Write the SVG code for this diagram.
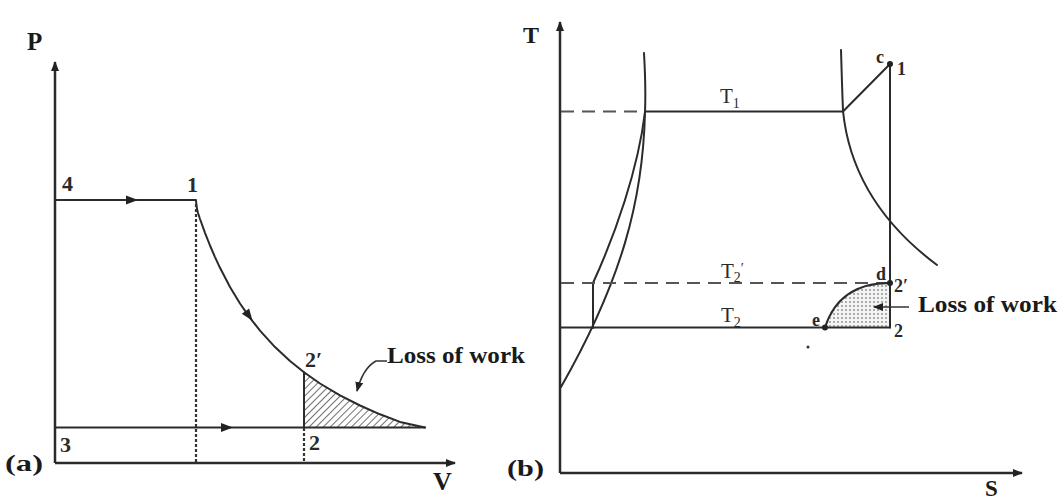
<svg xmlns="http://www.w3.org/2000/svg" width="1063" height="500" viewBox="0 0 1063 500">
<style>
.ax{stroke:#2b2b2b;stroke-width:2.5;fill:none}
.ln{stroke:#2b2b2b;stroke-width:2;fill:none;stroke-linejoin:round;stroke-linecap:round}
.thin{stroke:#333;stroke-width:1.6;fill:none}
.dot{stroke:#333;stroke-width:2.2;stroke-dasharray:3 2;fill:none}
.dash{stroke:#555;stroke-width:2;stroke-dasharray:13 8;fill:none}
.big{font-family:"Liberation Serif","Times New Roman",serif;font-weight:bold;fill:#1a1a1a}
.num{font-family:"Liberation Serif","Times New Roman",serif;fill:#2a2a2a}
.hd{fill:#222}
</style>
<defs>
<marker id="ah" markerWidth="10" markerHeight="8" refX="9" refY="4" orient="auto" markerUnits="userSpaceOnUse">
<path d="M0,0 L10,4 L0,8 z" fill="#222"/>
</marker>
<pattern id="hatch" width="5" height="5" patternUnits="userSpaceOnUse" patternTransform="rotate(45)">
<line x1="0" y1="0" x2="0" y2="5" stroke="#333" stroke-width="1.4"/>
</pattern>
<pattern id="dots" width="4" height="4" patternUnits="userSpaceOnUse">
<rect width="4" height="4" fill="#f4f4f4"/>
<circle cx="2" cy="2" r="0.9" fill="#8a8a8a"/>
</pattern>
</defs>

<g id="panel-a">
<g id="axes-a">
<line class="ax" x1="55" y1="463" x2="55" y2="62" marker-end="url(#ah)"/>
<line class="ax" x1="55" y1="463" x2="455" y2="463" marker-end="url(#ah)"/>
<text class="big" x="27" y="50" font-size="25">P</text>
<text class="big" x="433" y="490" font-size="26">V</text>
<text class="big" x="5" y="471" font-size="24" textLength="38" lengthAdjust="spacingAndGlyphs">(a)</text>
</g>
<g id="hatched-area">
<path d="M304,372.3 L320,383.5 L340,395.4 L360,405.5 L380,414.3 L400,421.9 L425,427.5 L304,427.5 Z" fill="url(#hatch)"/>
</g>
<g id="process-lines-a">
<line class="ln" x1="55" y1="200" x2="196" y2="200"/>
<polygon class="hd" points="126,195.5 138,200 126,204.5"/>
<line class="ln" x1="55" y1="427.5" x2="425" y2="427.5"/>
<polygon class="hd" points="221,423 233,427.5 221,432"/>
<path class="ln" d="M196,201 L197,209 L198,213 L200,219 L205,232.8 L210,245.5 L215,257.1 L220,267.8 L230,287 L240,303.5 L250,317.9 L260,330.6 L275,347.1 L290,361 L304,372.3 L320,383.5 L340,395.4 L360,405.5 L380,414.3 L400,421.9 L425,427.5"/>
<polygon class="hd" points="-6,-4.5 6,0 -6,4.5" transform="translate(249,316) rotate(54)"/>
<line class="ln" x1="304" y1="372.3" x2="304" y2="427.5"/>
<line class="dot" x1="196" y1="204" x2="196" y2="463"/>
<line class="dot" x1="304" y1="428" x2="304" y2="463"/>
</g>
<g id="labels-a">
<text class="num" x="62" y="191" font-size="22" font-weight="bold">4</text>
<text class="num" x="187" y="192" font-size="22" font-weight="bold">1</text>
<text class="num" x="60" y="452" font-size="22" font-weight="bold">3</text>
<text class="num" x="309" y="450" font-size="22" font-weight="bold">2</text>
<text class="num" x="305" y="367" font-size="22" font-weight="bold">2′</text>
</g>
<g id="loss-a">
<path class="thin" d="M387,361 L376,361 Q363,368 357,391" marker-end="url(#ah)"/>
<text class="big" x="387" y="363" font-size="24" textLength="138" lengthAdjust="spacingAndGlyphs">Loss of work</text>
</g>
</g>

<g id="panel-b">
<g id="axes-b">
<line class="ax" x1="560" y1="473" x2="560" y2="22" marker-end="url(#ah)"/>
<line class="ax" x1="560" y1="473" x2="1022" y2="473" marker-end="url(#ah)"/>
<text class="big" x="523" y="43" font-size="24">T</text>
<text class="big" x="985" y="496" font-size="23">S</text>
<text class="big" x="507" y="476" font-size="24" textLength="37" lengthAdjust="spacingAndGlyphs">(b)</text>
</g>
<g id="loss-area-b">
<path d="M825,327.5 C835,296 858,283 890,283 L890,327.5 Z" fill="url(#dots)"/>
</g>
<g id="dome">
<path class="ln" d="M644,53 Q646,88 645,112 C643,200 622,280 561,387"/>
<path class="ln" d="M645,112 C638,170 615,235 593,283"/>
<line class="ln" x1="593" y1="283" x2="593" y2="328"/>
<path class="ln" d="M841,50 Q842,85 843,111 C848,160 870,215 937,265"/>
</g>
<g id="process-lines-b">
<line class="dash" x1="561" y1="111.5" x2="645" y2="111.5"/>
<line class="ln" x1="645" y1="111.5" x2="843" y2="111.5"/>
<line class="ln" x1="843" y1="111.5" x2="890" y2="64"/>
<line class="ln" x1="890" y1="64" x2="890" y2="327.5"/>
<line class="dash" x1="561" y1="283" x2="890" y2="283"/>
<line class="ln" x1="561" y1="327.5" x2="890" y2="327.5"/>
<path class="ln" d="M825,327.5 C835,296 858,283 890,283"/>
<circle cx="890" cy="64" r="3" fill="#222"/>
<circle cx="890" cy="283" r="3" fill="#222"/>
<circle cx="825" cy="327.5" r="3" fill="#222"/>
<circle cx="808" cy="347" r="1.5" fill="#333"/>
</g>
<g id="labels-b">
<text class="num" x="720" y="103" font-size="21">T<tspan font-size="14" dy="5">1</tspan></text>
<text class="num" x="721" y="278" font-size="21">T<tspan font-size="14" dy="4">2</tspan><tspan font-size="14" dy="-9">′</tspan></text>
<text class="num" x="721" y="322" font-size="21">T<tspan font-size="14" dy="5">2</tspan></text>
<text class="num" x="876" y="63" font-size="18" font-weight="bold">c</text>
<text class="num" x="897" y="75" font-size="18" font-weight="bold">1</text>
<text class="num" x="876" y="280" font-size="18" font-weight="bold">d</text>
<text class="num" x="894" y="292" font-size="18" font-weight="bold">2′</text>
<text class="num" x="812" y="326" font-size="18" font-weight="bold">e</text>
<text class="num" x="894" y="337" font-size="18" font-weight="bold">2</text>
</g>
<g id="loss-b">
<line class="thin" x1="909" y1="307" x2="874" y2="307" marker-end="url(#ah)"/>
<text class="big" x="918" y="312" font-size="24" textLength="139" lengthAdjust="spacingAndGlyphs">Loss of work</text>
</g>
</g>
</svg>
